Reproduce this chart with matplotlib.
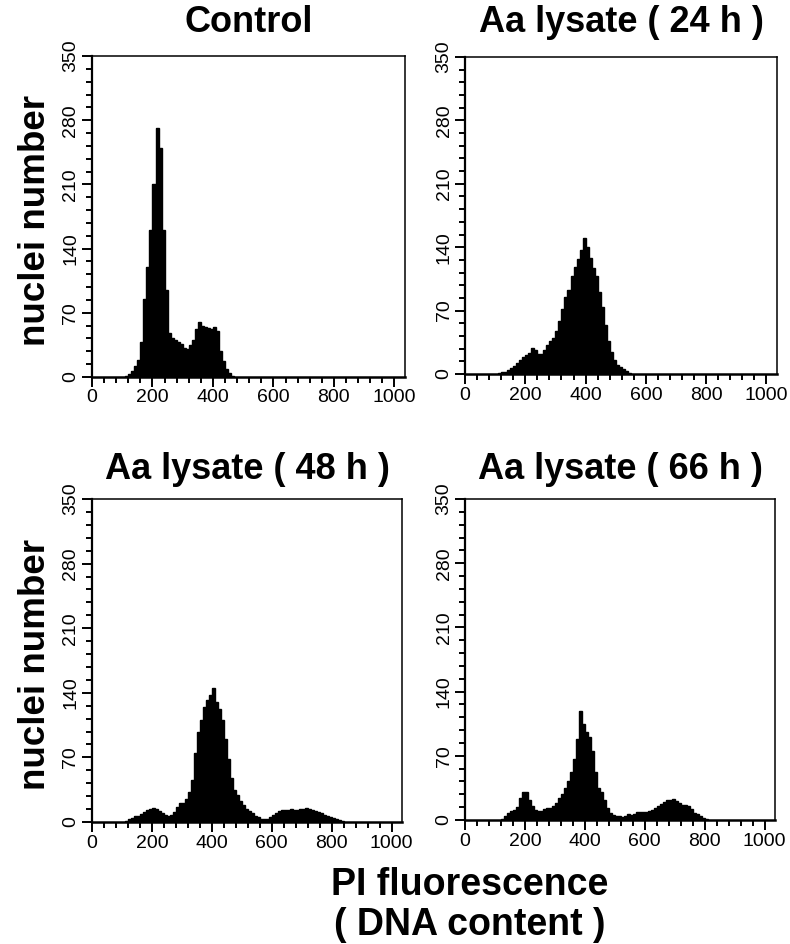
import numpy as np
import matplotlib
matplotlib.use("Agg")
import matplotlib.pyplot as plt
from matplotlib.ticker import MultipleLocator
from matplotlib import font_manager

# ---------------- data (PI fluorescence histograms, 10-unit channels) ----------------
bin_width = 10
panel_titles = ["Control", "Aa lysate ( 24 h )", "Aa lysate ( 48 h )", "Aa lysate ( 66 h )"]

control_start = 110
control_counts = [1, 3, 7, 12, 18, 38, 85, 120, 160, 210, 272, 250, 160, 95, 48,
                  42, 40, 38, 36, 32, 30, 35, 40, 52, 60, 56, 54, 53, 52, 54,
                  50, 28, 17, 9, 4, 1]

h24_start = 110
h24_counts = [1, 2, 2, 4, 7, 9, 12, 16, 19, 21, 23, 29, 26, 22, 22, 26, 32, 36, 40,
              47, 58, 72, 85, 93, 108, 118, 127, 137, 150, 140, 128, 117, 108, 90,
              74, 54, 36, 24, 15, 10, 8, 6, 3, 1]

h48_start = 110
h48_counts = [1, 3, 4, 6, 7, 9, 11, 13, 14, 15, 14, 12, 10, 8, 7, 8, 11, 16, 21,
              21, 25, 32, 45, 75, 97, 110, 125, 132, 138, 145, 130, 122, 110, 90,
              68, 48, 35, 29, 23, 18, 14, 12, 10, 7, 5, 3, 3, 3, 5, 8, 10, 12, 13,
              13, 13, 14, 13, 13, 14, 14, 15, 14, 13, 12, 11, 10, 8, 7, 5, 4, 3, 2, 1]

h66_start = 120
h66_counts = [1, 4, 8, 10, 11, 14, 24, 31, 30, 22, 15, 11, 10, 10, 12, 13, 13, 15,
              18, 24, 28, 35, 43, 52, 66, 88, 119, 105, 96, 90, 75, 52, 35, 30, 22,
              13, 8, 5, 4, 4, 3, 4, 7, 5, 7, 9, 9, 9, 9, 10, 11, 13, 15, 17, 20, 22,
              22, 23, 21, 19, 16, 16, 15, 12, 8, 6, 4, 2, 1]

y_ticks = [0, 70, 140, 210, 280, 350]
x_ticks = [0, 200, 400, 600, 800, 1000]
y_label = "nuclei number"
x_label = "PI fluorescence\n( DNA content )"

series = [(control_start, control_counts), (h24_start, h24_counts),
          (h48_start, h48_counts), (h66_start, h66_counts)]

# ---------------- fonts ----------------
names = {f.name for f in font_manager.fontManager.ttflist}
bold_font = "Liberation Sans" if "Liberation Sans" in names else "DejaVu Sans"
tick_font = "Liberation Sans Narrow" if "Liberation Sans Narrow" in names else bold_font
plt.rcParams['font.family'] = [bold_font, 'DejaVu Sans']

fig = plt.figure(figsize=(7.9, 9.44), dpi=100)
W, H = 790.0, 944.0
# axes boxes in pixels: left, right, top, bottom
boxes = [(92, 405, 56, 377), (465, 777, 57, 374),
         (92, 402, 499, 822), (465, 775, 499, 820)]
title_y = [23, 23, 469, 469]

for i, ((l, r, t, b), (start, counts)) in enumerate(zip(boxes, series)):
    ax = fig.add_axes([l / W, 1 - b / H, (r - l) / W, (b - t) / H])
    edges = start + bin_width * np.arange(len(counts) + 1)
    ax.stairs(counts, edges, fill=True, color="black", linewidth=0)
    ax.stairs(counts, edges, color="black", linewidth=1.0)
    ax.set_xlim(0, 1035)
    ax.set_ylim(0, 350)
    ax.set_xticks(x_ticks)
    ax.set_yticks(y_ticks)
    ax.xaxis.set_minor_locator(MultipleLocator(40))
    ax.yaxis.set_minor_locator(MultipleLocator(14))
    for s in ax.spines.values():
        s.set_linewidth(1.1)
    ax.spines['bottom'].set_linewidth(1.8)
    ax.spines['left'].set_linewidth(1.6)
    ax.tick_params(axis='both', which='major', direction='out', length=7, width=1.4,
                   labelsize=14, pad=2)
    ax.tick_params(axis='both', which='minor', direction='out', length=4, width=1.4)
    for lab in ax.get_xticklabels():
        lab.set_family(tick_font)
    for lab in ax.get_yticklabels():
        lab.set_family(tick_font)
        lab.set_rotation(90)
        lab.set_va('center')
    cx = (l + r) / 2 / W
    fig.text(cx, 1 - title_y[i] / H, panel_titles[i], ha='center', va='center',
             fontsize=26, fontweight='bold')

fig.text(36 / W, 1 - 220 / H, y_label, rotation=90, ha='center', va='center',
         fontsize=26.5, fontweight='bold')
fig.text(36 / W, 1 - 665 / H, y_label, rotation=90, ha='center', va='center',
         fontsize=26.5, fontweight='bold')
fig.text(470 / W, 1 - 905 / H, x_label, ha='center', va='center',
         fontsize=27, fontweight='bold', linespacing=1.12)

fig.savefig("out.png", dpi=100, facecolor="white")
